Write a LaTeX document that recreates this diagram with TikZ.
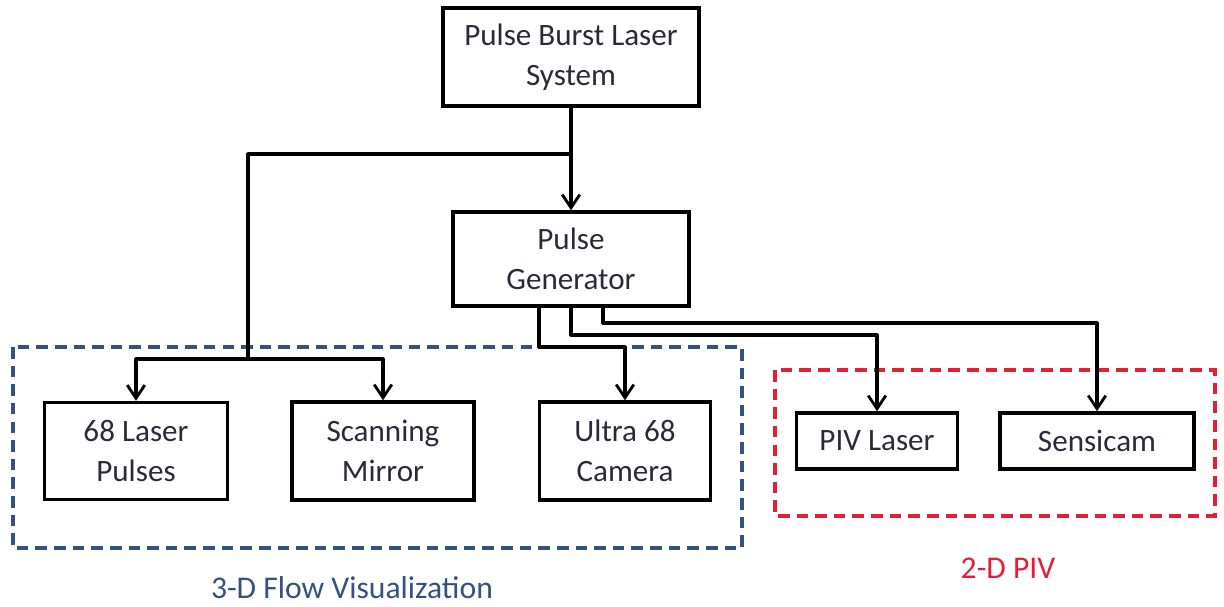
\documentclass[tikz,border=0pt]{standalone}
\usepackage{fontspec}
\setmainfont{Carlito}
\usetikzlibrary{arrows.meta}
\definecolor{inkgray}{RGB}{42,42,58}
\definecolor{flowblue}{RGB}{52,82,122}
\definecolor{pivred}{RGB}{228,30,52}

\begin{document}
\begin{tikzpicture}[x=0.02cm, y=-0.02cm,
  unit/.style={draw, line width=2pt, align=center, inner sep=0pt, text=inkgray,
    font=\fontsize{17.7}{22.7}\selectfont},
  link/.style={line width=1.8pt, line join=round},
  arrow/.style={link, -{Straight Barb[length=7.5pt, width=10pt, line width=1.6pt]}},
  group/.style={dashed, line width=1.8pt, dash pattern=on 6.6pt off 4pt},
  caption/.style={font=\fontsize{18}{22.7}\selectfont}
]
\useasboundingbox (0,0) rectangle (1224,606);

% Source and trigger
\node[unit, minimum width=5.12cm, minimum height=1.96cm] (burst) at (571,57) {Pulse Burst Laser\\System};
\node[unit, minimum width=4.72cm, minimum height=1.88cm] (gen) at (571,259) {Pulse\\Generator};

% 3-D flow visualization group
\node[unit, minimum width=3.66cm, minimum height=1.94cm] (laser) at (136,451) {68 Laser\\Pulses};
\node[unit, minimum width=3.64cm, minimum height=1.96cm] (mirror) at (383,451) {Scanning\\Mirror};
\node[unit, minimum width=3.42cm, minimum height=1.96cm] (camera) at (625,451) {Ultra 68\\Camera};
\draw[group, flowblue] (13,347) rectangle (742,548);
\node[caption, text=flowblue] (flowlabel) at (352,588) {3-D Flow Visualization};

% 2-D PIV group
\node[unit, minimum width=3.22cm, minimum height=1.12cm] (piv) at (877,441) {PIV Laser};
\node[unit, minimum width=3.88cm, minimum height=1.12cm] (sensicam) at (1097,441) {Sensicam};
\draw[group, pivred] (775,370) rectangle (1215,516);
\node[caption, text=pivred] (pivlabel) at (1008,568) {2-D PIV};

% Laser system feeds generator and the 3-D side
\coordinate (split) at (571,154);
\coordinate (fork) at (248,359);
\draw[arrow] (burst.south) -- (gen.north);
\draw[link] (split) -| (fork);
\draw[arrow] (fork) -| (laser.north);
\draw[arrow] (fork) -| (mirror.north);

% Generator triggers the cameras and PIV laser
\coordinate (camtap) at (539,347);
\coordinate (pivtap) at (571,335);
\coordinate (sentap) at (603,323);
\draw[arrow] (gen.south -| camtap) -- (camtap) -| (camera.north);
\draw[arrow] (gen.south -| pivtap) -- (pivtap) -| (piv.north);
\draw[arrow] (gen.south -| sentap) -- (sentap) -| (sensicam.north);
\end{tikzpicture}
\end{document}
